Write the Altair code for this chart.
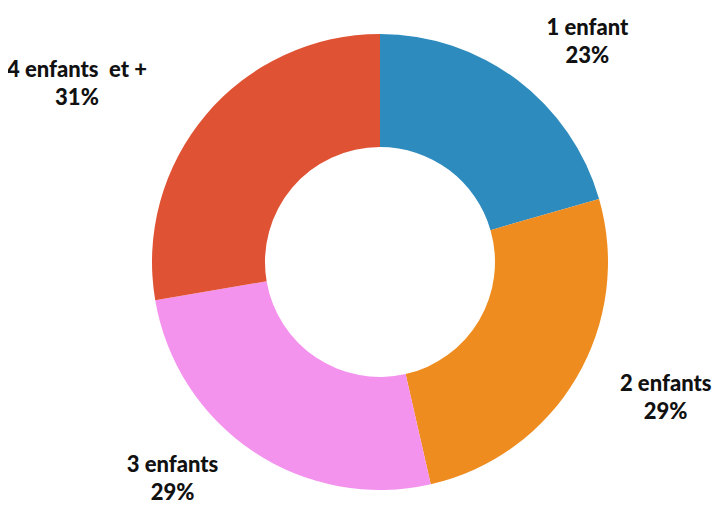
import altair as alt
import pandas as pd

categories = ["1 enfant", "2 enfants", "3 enfants", "4 enfants\u00a0 et +"]
values = [23, 29, 29, 31]
colors = ["#2E8BBE", "#EF8C1F", "#F393EE", "#DF5334"]
order = [1, 2, 3, 4]

df = pd.DataFrame({"cat": categories, "val": values, "ord": order})

cx, cy = 372, 254

base = alt.Chart(df).encode(
    theta=alt.Theta("val:Q", stack=True),
    order=alt.Order("ord:Q"),
)

arc = base.mark_arc(outerRadius=228, innerRadius=115).encode(
    color=alt.Color("cat:N", scale=alt.Scale(domain=categories, range=colors), legend=None),
    x=alt.value(cx), y=alt.value(cy),
)

offsets = {
    categories[0]: (24, 10),
    categories[1]: (23, -33),
    categories[2]: (-38, -51),
    categories[3]: (-70, 5),
}

text_base = base.transform_calculate(
    label="[datum.cat, datum.val + '%']"
)

layers = [arc]
for c in categories:
    dx, dy = offsets[c]
    t = text_base.mark_text(
        radius=305, font="Lato", fontWeight=900, fontSize=22,
        lineHeight=28, align="center", baseline="middle", color="#111111",
        dx=dx, dy=dy,
    ).encode(
        text="label:N",
        x=alt.value(cx), y=alt.value(cy),
        opacity=alt.condition(alt.datum.cat == c, alt.value(1), alt.value(0)),
    )
    layers.append(t)

chart = alt.layer(*layers).properties(
    width=704, height=499, padding=0,
    autosize=alt.AutoSizeParams(type="none"),
).configure_view(stroke=None)

chart.save("out.html", embed_options={"renderer": "svg", "actions": False})
